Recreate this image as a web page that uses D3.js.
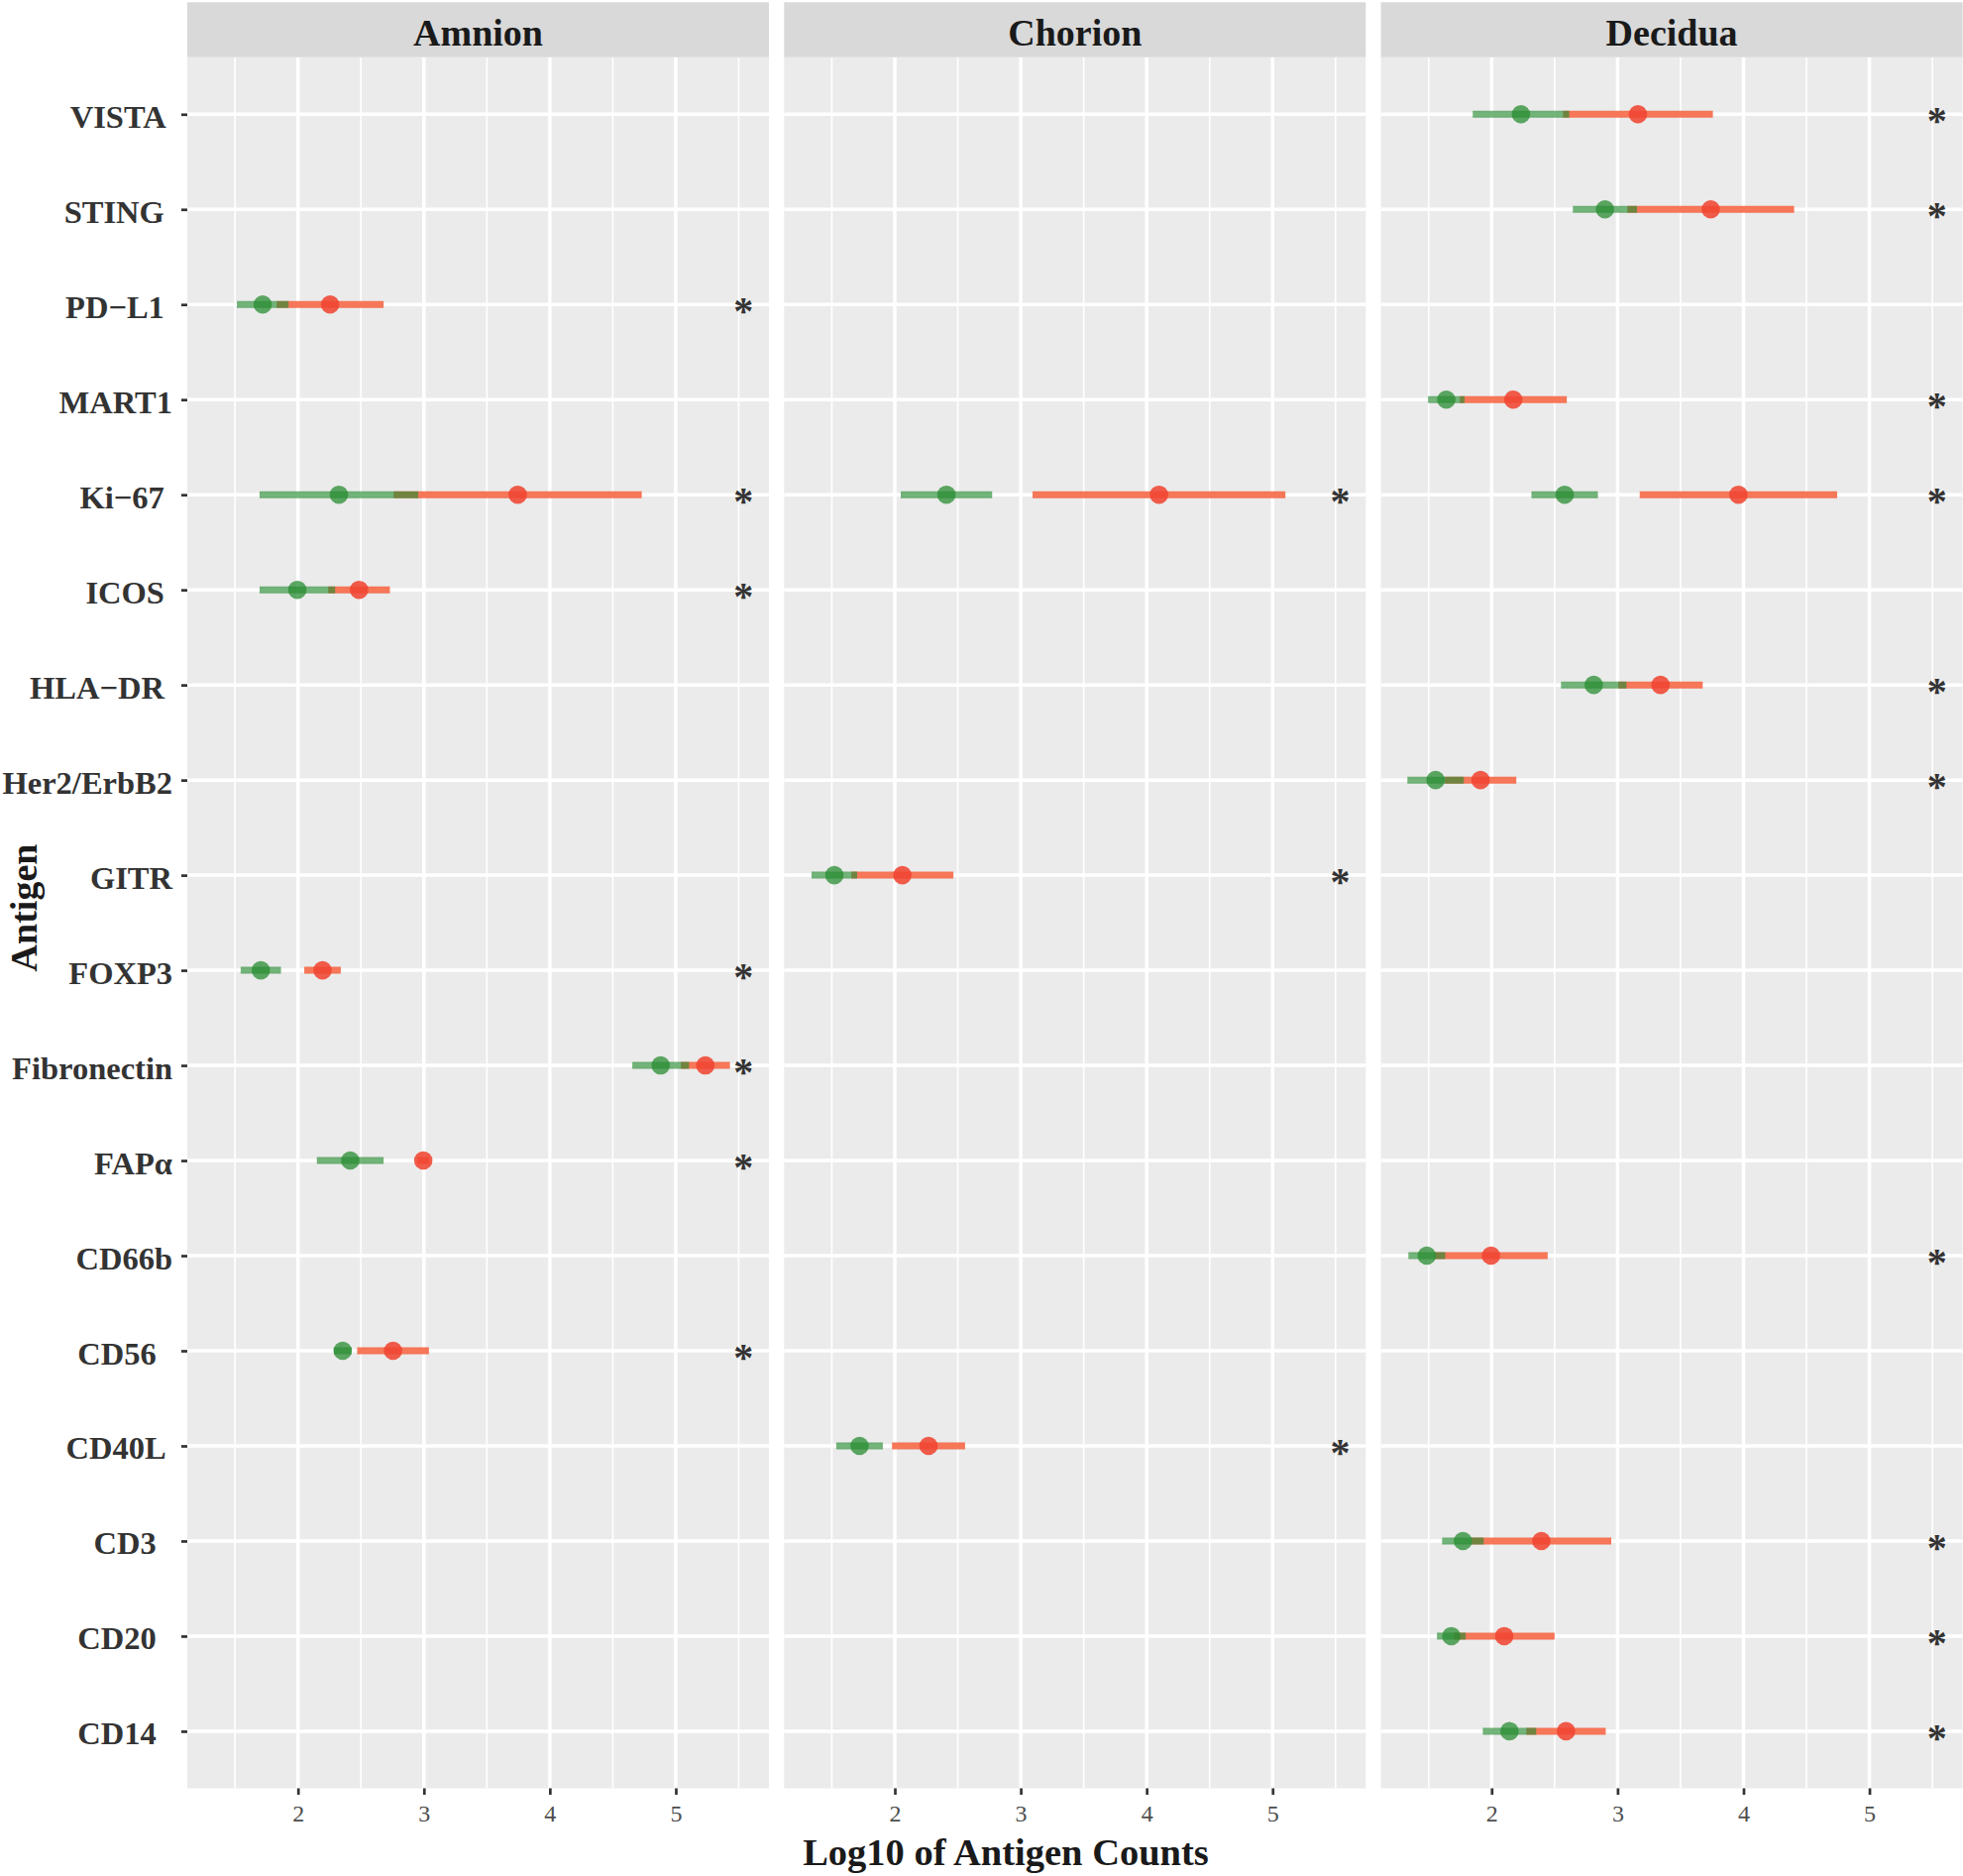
<!DOCTYPE html>
<html>
<head>
<meta charset="utf-8">
<script src="https://cdn.jsdelivr.net/npm/d3@7"></script>
<style>
  body { margin: 0; background: #ffffff; }
  text { font-family: "Liberation Serif", "Times New Roman", serif; }
</style>
</head>
<body>
<div id="chart"></div>
<script>
// antigens, top to bottom
var antigens = ["VISTA", "STING", "PD\u2212L1", "MART1", "Ki\u221267", "ICOS", "HLA\u2212DR",
    "Her2/ErbB2", "GITR", "FOXP3", "Fibronectin", "FAP\u03b1", "CD66b", "CD56",
    "CD40L", "CD3", "CD20", "CD14"];

// tick labels as printed (some names carry trailing blanks in the source table)
var antigenLabels = ["VISTA ", "STING ", "PD\u2212L1 ", "MART1", "Ki\u221267 ", "ICOS ", "HLA\u2212DR ",
    "Her2/ErbB2", "GITR", "FOXP3", "Fibronectin", "FAP\u03b1", "CD66b", "CD56  ",
    "CD40L ", "CD3  ", "CD20  ", "CD14  "];

var tissues = ["Amnion", "Chorion", "Decidua"];

// [antigen, green mean, green sd, red mean, red sd]  (log10 counts)
var amnionRows = [
    ["PD\u2212L1", 1.72, 0.205, 2.255, 0.425],
    ["Ki\u221267", 2.325, 0.63, 3.745, 0.985],
    ["ICOS", 1.995, 0.30, 2.485, 0.245],
    ["FOXP3", 1.705, 0.16, 2.195, 0.145],
    ["Fibronectin", 4.88, 0.225, 5.235, 0.195],
    ["FAP\u03b1", 2.415, 0.265, 2.995, 0.047],
    ["CD56", 2.355, 0.07, 2.755, 0.285]
];

var chorionRows = [
    ["Ki\u221267", 2.41, 0.363, 4.098, 1.004],
    ["GITR", 1.52, 0.181, 2.06, 0.405],
    ["CD40L", 1.72, 0.185, 2.268, 0.29]
];

var deciduaRows = [
    ["VISTA", 2.233, 0.383, 3.162, 0.595],
    ["STING", 2.90, 0.255, 3.74, 0.662],
    ["MART1", 1.64, 0.145, 2.172, 0.425],
    ["Ki\u221267", 2.58, 0.264, 3.96, 0.784],
    ["HLA\u2212DR", 2.811, 0.26, 3.341, 0.335],
    ["Her2/ErbB2", 1.555, 0.224, 1.912, 0.284],
    ["CD66b", 1.485, 0.146, 1.995, 0.45],
    ["CD3", 1.772, 0.165, 2.395, 0.555],
    ["CD20", 1.68, 0.114, 2.10, 0.40],
    ["CD14", 2.142, 0.212, 2.591, 0.315]
];

var xTicks = [2, 3, 4, 5];
var xMinor = [1.5, 2.5, 3.5, 4.5, 5.5];
var starX = 5.537;

function init() {
    createChart();
}

function createChart() {

    var width = 1981,
        height = 1893,
        panelLeft = 189,
        panelW = 587,
        panelStep = 602.3,
        stripTop = 2.3,
        panelTop = 57.7,
        panelBottom = 1804.5;

    var svg = d3.select("div#chart")
        .append("svg")
        .attr("width", width)
        .attr("height", height);

    var x = d3.scaleLinear().domain([1.121, 5.74]).range([0, panelW]);
    var y = d3.scalePoint().domain(antigens).range([panelTop, panelBottom]).padding(0.6);

    var tissueRows = [amnionRows, chorionRows, deciduaRows];

    tissues.forEach(function(tissue, i) {

        var g = svg.append("g")
            .attr("transform", "translate(" + (panelLeft + i * panelStep) + ",0)");

        g.append("rect")
            .attr("x", 0).attr("y", panelTop)
            .attr("width", panelW).attr("height", panelBottom - panelTop)
            .attr("fill", "#ebebeb");

        // grid
        g.selectAll(".minor").data(xMinor).enter().append("line")
            .attr("x1", d => x(d)).attr("x2", d => x(d))
            .attr("y1", panelTop).attr("y2", panelBottom)
            .attr("stroke", "#ffffff").attr("stroke-width", 1.6);

        g.selectAll(".majorx").data(xTicks).enter().append("line")
            .attr("x1", d => x(d)).attr("x2", d => x(d))
            .attr("y1", panelTop).attr("y2", panelBottom)
            .attr("stroke", "#ffffff").attr("stroke-width", 3.5);

        g.selectAll(".majory").data(antigens).enter().append("line")
            .attr("x1", 0).attr("x2", panelW)
            .attr("y1", d => y(d)).attr("y2", d => y(d))
            .attr("stroke", "#ffffff").attr("stroke-width", 3.5);

        // strip
        g.append("rect")
            .attr("x", 0).attr("y", stripTop)
            .attr("width", panelW).attr("height", panelTop - stripTop)
            .attr("fill", "#d9d9d9");

        g.append("text")
            .text(tissue)
            .attr("x", panelW / 2).attr("y", 46)
            .attr("text-anchor", "middle")
            .attr("font-size", "38px")
            .attr("font-weight", "bold")
            .attr("fill", "#1a1a1a");

        var rows = tissueRows[i];

        // ranges: red underneath, green on top
        g.selectAll(".redline").data(rows).enter().append("line")
            .attr("x1", d => x(d[3] - d[4])).attr("x2", d => x(d[3] + d[4]))
            .attr("y1", d => y(d[0])).attr("y2", d => y(d[0]))
            .attr("stroke", "rgb(246,95,60)").attr("stroke-opacity", 0.85)
            .attr("stroke-width", 7);

        g.selectAll(".greenline").data(rows).enter().append("line")
            .attr("x1", d => x(d[1] - d[2])).attr("x2", d => x(d[1] + d[2]))
            .attr("y1", d => y(d[0])).attr("y2", d => y(d[0]))
            .attr("stroke", "rgb(40,140,50)").attr("stroke-opacity", 0.65)
            .attr("stroke-width", 7);

        g.selectAll(".redpt").data(rows).enter().append("circle")
            .attr("cx", d => x(d[3])).attr("cy", d => y(d[0]))
            .attr("r", 9.3)
            .attr("fill", "rgb(240,70,50)").attr("fill-opacity", 0.88);

        g.selectAll(".greenpt").data(rows).enter().append("circle")
            .attr("cx", d => x(d[1])).attr("cy", d => y(d[0]))
            .attr("r", 9.3)
            .attr("fill", "rgb(40,140,50)").attr("fill-opacity", 0.75);

        // significance marks
        g.selectAll(".star").data(rows).enter().append("text")
            .text("*")
            .attr("x", x(starX)).attr("y", d => y(d[0]) + 20)
            .attr("text-anchor", "middle")
            .attr("font-size", "40px")
            .attr("font-weight", "bold")
            .attr("fill", "#333333");

        // x axis
        var xAxis = g.append("g")
            .attr("transform", "translate(0," + panelBottom + ")")
            .call(d3.axisBottom(x).tickValues(xTicks).tickFormat(d3.format("d"))
                .tickSize(6.5).tickPadding(10));
        xAxis.select(".domain").remove();
        xAxis.selectAll("line").attr("stroke", "#333333").attr("stroke-width", 2.7);
        xAxis.selectAll("text")
            .attr("font-size", "24px")
            .attr("font-family", "Liberation Serif, Times New Roman, serif")
            .attr("fill", "#4d4d4d");

        if (i == 0) {
            var yAxis = g.append("g")
                .call(d3.axisLeft(y).tickSize(6).tickPadding(9)
                    .tickFormat((d, k) => antigenLabels[k]));
            yAxis.select(".domain").remove();
            yAxis.selectAll("line").attr("stroke", "#333333").attr("stroke-width", 2.7);
            yAxis.selectAll("text")
                .attr("dy", "0.4em")
                .style("white-space", "pre")
                .attr("font-size", "32.5px")
                .attr("font-weight", "bold")
                .attr("font-family", "Liberation Serif, Times New Roman, serif")
                .attr("fill", "#333333");
        }
    });

    // axis titles
    svg.append("text")
        .text("Log10 of Antigen Counts")
        .attr("x", 1015).attr("y", 1882)
        .attr("text-anchor", "middle")
        .attr("font-size", "38.5px")
        .attr("font-weight", "bold")
        .attr("fill", "#1a1a1a");

    svg.append("text")
        .text("Antigen")
        .attr("transform", "translate(37,916) rotate(-90)")
        .attr("text-anchor", "middle")
        .attr("font-size", "38px")
        .attr("font-weight", "bold")
        .attr("fill", "#1a1a1a");
}

init();
</script>
</body>
</html>
